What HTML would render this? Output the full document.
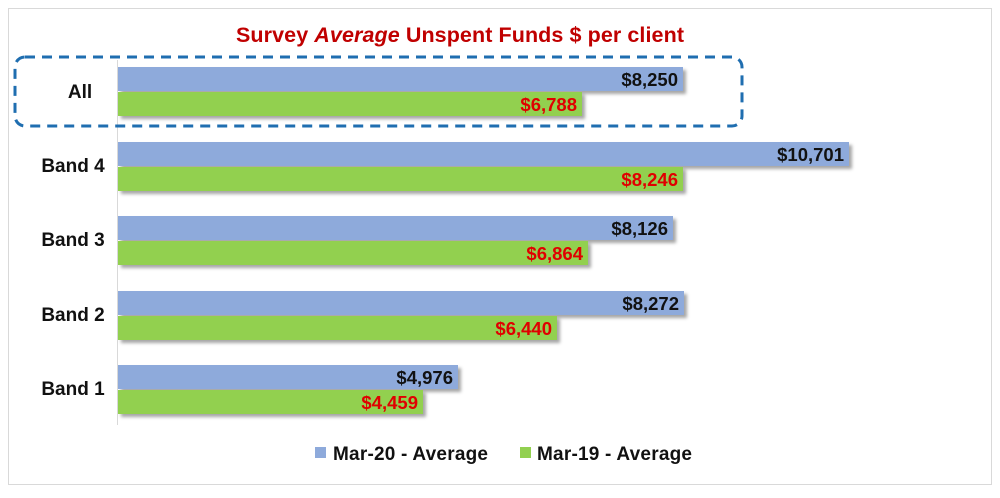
<!DOCTYPE html>
<html><head><style>
body{margin:0;background:#fff;}
svg text{font-family:"Liberation Sans",sans-serif;font-weight:bold;}
</style></head><body>
<svg width="1000" height="493" xmlns="http://www.w3.org/2000/svg">
<defs><filter id="sh" x="-5%" y="-20%" width="110%" height="160%"><feDropShadow dx="3" dy="3" stdDeviation="1.5" flood-color="#000" flood-opacity="0.35"/></filter></defs>
<rect x="8.5" y="8.5" width="983" height="476" fill="#fff" stroke="#d9d9d9"/>
<text x="460" y="42" text-anchor="middle" font-size="21.5" fill="#c00000" textLength="448">Survey <tspan font-style="italic">Average</tspan> Unspent Funds $ per client</text>
<line x1="117.5" y1="60" x2="117.5" y2="425" stroke="#d9d9d9"/>
<g filter="url(#sh)">
<rect x="118" y="67" width="565" height="24" fill="#8eaadb"/><rect x="118" y="92" width="464" height="24" fill="#92d050"/>
<rect x="118" y="142" width="731" height="24" fill="#8eaadb"/><rect x="118" y="167" width="565" height="24" fill="#92d050"/>
<rect x="118" y="216" width="555" height="24" fill="#8eaadb"/><rect x="118" y="241" width="470" height="24" fill="#92d050"/>
<rect x="118" y="291" width="566" height="24" fill="#8eaadb"/><rect x="118" y="316" width="439" height="24" fill="#92d050"/>
<rect x="118" y="365" width="340" height="24" fill="#8eaadb"/><rect x="118" y="390" width="305" height="24" fill="#92d050"/>
</g>
<g font-size="18.5" text-anchor="end">
<text x="678" y="86" fill="#111">$8,250</text><text x="577" y="111" fill="#e00000">$6,788</text>
<text x="844" y="161" fill="#111">$10,701</text><text x="678" y="186" fill="#e00000">$8,246</text>
<text x="668" y="235" fill="#111">$8,126</text><text x="583" y="260" fill="#e00000">$6,864</text>
<text x="679" y="310" fill="#111">$8,272</text><text x="552" y="335" fill="#e00000">$6,440</text>
<text x="453" y="384" fill="#111">$4,976</text><text x="418" y="409" fill="#e00000">$4,459</text>
</g>
<g font-size="19" text-anchor="middle" fill="#111">
<text x="80" y="98">All</text><text x="73" y="172">Band 4</text><text x="73" y="246">Band 3</text><text x="73" y="321">Band 2</text><text x="73" y="395">Band 1</text>
</g>
<rect x="15" y="57" width="727" height="69" rx="10" fill="none" stroke="#1f6eb0" stroke-width="3" stroke-dasharray="10 7"/>
<rect x="315" y="447" width="11" height="11" fill="#8eaadb"/>
<text x="333" y="460" font-size="19" fill="#111" textLength="155">Mar-20 - Average</text>
<rect x="520" y="447" width="11" height="11" fill="#92d050"/>
<text x="537" y="460" font-size="19" fill="#111" textLength="155">Mar-19 - Average</text>
</svg>
</body></html>
